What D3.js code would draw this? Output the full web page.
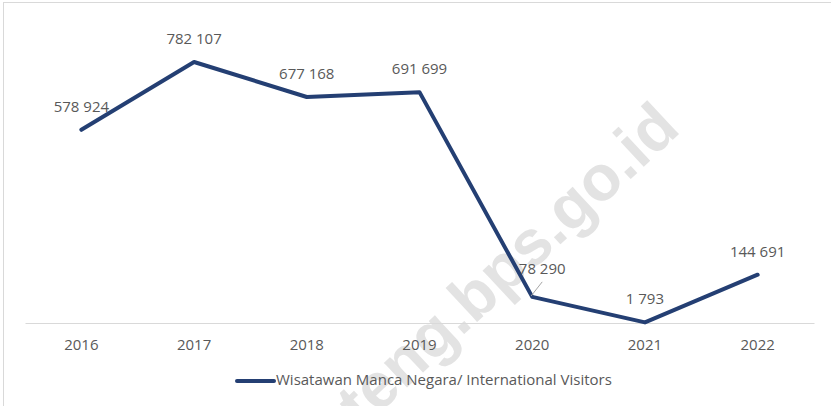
<!DOCTYPE html>
<html>
<head>
<meta charset="utf-8">
<script src="https://cdn.jsdelivr.net/npm/d3@7"></script>
<style>
  html, body { margin: 0; padding: 0; background: #fff; }
  svg { display: block; font-family: "Open Sans", sans-serif; }
</style>
</head>
<body>
<div id="chart"></div>
<script>
// data
var aYears = ["2016", "2017", "2018", "2019", "2020", "2021", "2022"];
var aVisitors = [578924, 782107, 677168, 691699, 78290, 1793, 144691];
var sSeriesName = "Wisatawan Manca Negara/ International Visitors";
var Y_DOMAIN = [0, 800000];

var WIDTH = 831, HEIGHT = 406;
var LINE_COLOR = "#243f73", TEXT_COLOR = "#595959", GRID_COLOR = "#d9d9d9";

var oSvg = d3.select("#chart").append("svg")
  .attr("width", WIDTH)
  .attr("height", HEIGHT);

// chart area border (runs off the right and bottom edges)
oSvg.append("rect")
  .attr("x", 3.5).attr("y", 2.5)
  .attr("width", WIDTH + 10).attr("height", HEIGHT + 10)
  .attr("fill", "none")
  .attr("stroke", GRID_COLOR);

// watermark
oSvg.append("text")
  .attr("transform", "translate(682,131) rotate(-43)")
  .attr("text-anchor", "end")
  .attr("font-family", "Liberation Sans, Arial, sans-serif")
  .attr("font-weight", "bold")
  .attr("font-size", 64)
  .attr("fill", "#e3e3e3")
  .text("teng.bps.go.id");

var x = d3.scaleBand()
  .domain(aYears)
  .range([25, 814]);

var y = d3.scaleLinear()
  .domain(Y_DOMAIN)
  .range([323, 56]);

var aPoints = aYears.map(function(sYear, i) {
  return { year: sYear, value: aVisitors[i] };
});

function cx(d) { return x(d.year) + x.bandwidth() / 2; }

// x axis
var gAxis = oSvg.append("g")
  .attr("transform", "translate(0," + y(0) + ")")
  .call(d3.axisBottom(x).tickSize(0).tickPadding(16));
gAxis.select(".domain").attr("stroke", GRID_COLOR).attr("stroke-width", 1);
gAxis.selectAll("text")
  .attr("fill", TEXT_COLOR)
  .attr("font-family", "Open Sans, sans-serif")
  .attr("font-size", 15);

// line
var line = d3.line()
  .x(cx)
  .y(function(d) { return y(d.value); });

oSvg.append("path")
  .datum(aPoints)
  .attr("d", line)
  .attr("fill", "none")
  .attr("stroke", LINE_COLOR)
  .attr("stroke-width", 4)
  .attr("stroke-linejoin", "round")
  .attr("stroke-linecap", "round");

// data labels; the 2020 one is pushed aside with a leader line
var fmt = function(v) { return d3.format(",")(v).replace(/,/g, " "); };

oSvg.selectAll(".label")
  .data(aPoints)
  .enter().append("text")
  .attr("class", "label")
  .attr("x", function(d) { return cx(d) + (d.year === "2020" ? 10 : 0); })
  .attr("y", function(d) { return y(d.value) - (d.year === "2020" ? 27 : 22); })
  .attr("text-anchor", "middle")
  .attr("dominant-baseline", "middle")
  .attr("fill", TEXT_COLOR)
  .attr("font-size", 15)
  .text(function(d) { return fmt(d.value); });

var p2020 = aPoints[4];
oSvg.append("line")
  .attr("x1", cx(p2020) - 1).attr("y1", y(p2020.value) - 1)
  .attr("x2", cx(p2020) + 10).attr("y2", y(p2020.value) - 15)
  .attr("stroke", "#a6a6a6")
  .attr("stroke-width", 1);

// legend
var gLegend = oSvg.append("g").attr("transform", "translate(237,381)");
gLegend.append("line")
  .attr("x1", 0).attr("x2", 37)
  .attr("y1", 0).attr("y2", 0)
  .attr("stroke", LINE_COLOR)
  .attr("stroke-width", 4)
  .attr("stroke-linecap", "round");
gLegend.append("text")
  .attr("x", 39).attr("y", 0)
  .attr("dominant-baseline", "middle")
  .attr("fill", TEXT_COLOR)
  .attr("font-size", 15)
  .text(sSeriesName);
</script>
</body>
</html>
